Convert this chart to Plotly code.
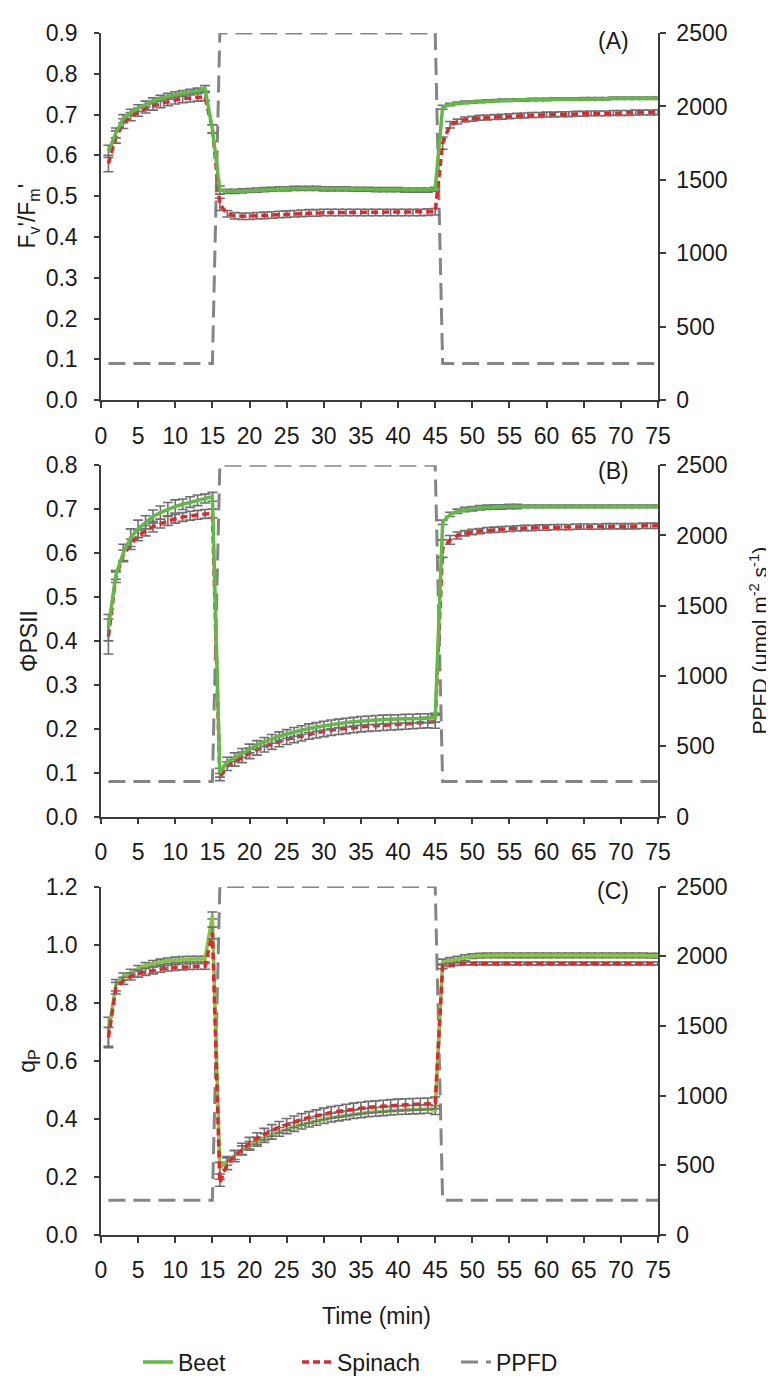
import plotly.graph_objects as go

# minutes after start of measurement
TIME = list(range(1, 76))

# light regime (umol m-2 s-1)
PPFD = [250] * 15 + [2500] * 30 + [250] * 30

# (A) Fv'/Fm'
beet_fvfm = [
    0.610, 0.655, 0.690, 0.705, 0.716, 0.726, 0.734, 0.740, 0.745, 0.749, 0.752, 0.755, 0.758, 0.764, 0.665,
    0.515, 0.512, 0.512, 0.513, 0.514, 0.515, 0.516, 0.517, 0.518, 0.518, 0.519, 0.519, 0.519, 0.519, 0.518,
    0.518, 0.518, 0.518, 0.517, 0.517, 0.517, 0.516, 0.516, 0.516, 0.516, 0.515, 0.515, 0.515, 0.515, 0.517,
    0.718, 0.725, 0.728, 0.730, 0.731, 0.732, 0.733, 0.734, 0.735, 0.735, 0.736, 0.736, 0.737, 0.737, 0.737,
    0.738, 0.738, 0.738, 0.738, 0.739, 0.739, 0.739, 0.739, 0.740, 0.740, 0.740, 0.740, 0.740, 0.740, 0.740,
]
beet_fvfm_err = [
    0.015, 0.012, 0.010, 0.008, 0.008, 0.007, 0.007, 0.007, 0.007, 0.007, 0.007, 0.007, 0.007, 0.007, 0.010,
    0.010, 0.005, 0.005, 0.005, 0.005, 0.005, 0.005, 0.005, 0.005, 0.005, 0.005, 0.005, 0.005, 0.005, 0.005,
    0.005, 0.005, 0.005, 0.005, 0.005, 0.005, 0.005, 0.005, 0.005, 0.005, 0.005, 0.005, 0.005, 0.005, 0.005,
    0.005, 0.003, 0.003, 0.003, 0.003, 0.003, 0.003, 0.003, 0.003, 0.003, 0.003, 0.003, 0.003, 0.003, 0.003,
    0.003, 0.003, 0.003, 0.003, 0.003, 0.003, 0.003, 0.003, 0.003, 0.003, 0.003, 0.003, 0.003, 0.003, 0.003,
]
spinach_fvfm = [
    0.580, 0.645, 0.678, 0.695, 0.706, 0.714, 0.721, 0.727, 0.732, 0.736, 0.739, 0.741, 0.743, 0.744, 0.665,
    0.480, 0.457, 0.452, 0.451, 0.451, 0.452, 0.453, 0.454, 0.455, 0.456, 0.457, 0.458, 0.459, 0.459, 0.460,
    0.460, 0.460, 0.460, 0.460, 0.460, 0.460, 0.460, 0.460, 0.460, 0.460, 0.460, 0.460, 0.460, 0.461, 0.462,
    0.630, 0.675, 0.683, 0.688, 0.690, 0.692, 0.693, 0.694, 0.695, 0.696, 0.697, 0.698, 0.699, 0.699, 0.700,
    0.700, 0.701, 0.701, 0.702, 0.702, 0.703, 0.703, 0.703, 0.704, 0.704, 0.704, 0.705, 0.705, 0.705, 0.706,
]
spinach_fvfm_err = [
    0.020, 0.015, 0.012, 0.010, 0.010, 0.010, 0.010, 0.010, 0.010, 0.010, 0.010, 0.010, 0.010, 0.010, 0.010,
    0.015, 0.008, 0.008, 0.008, 0.008, 0.008, 0.008, 0.008, 0.008, 0.008, 0.008, 0.008, 0.008, 0.008, 0.008,
    0.008, 0.008, 0.008, 0.008, 0.008, 0.008, 0.008, 0.008, 0.008, 0.008, 0.008, 0.008, 0.008, 0.008, 0.008,
    0.015, 0.008, 0.006, 0.006, 0.006, 0.006, 0.006, 0.006, 0.006, 0.006, 0.006, 0.006, 0.006, 0.006, 0.006,
    0.006, 0.006, 0.006, 0.006, 0.006, 0.006, 0.006, 0.006, 0.006, 0.006, 0.006, 0.006, 0.006, 0.006, 0.006,
]

# (B) PhiPSII
beet_phi = [
    0.430, 0.550, 0.600, 0.635, 0.655, 0.670, 0.683, 0.692, 0.700, 0.706, 0.711, 0.716, 0.720, 0.724, 0.728,
    0.100, 0.125, 0.135, 0.145, 0.155, 0.163, 0.170, 0.177, 0.183, 0.188, 0.193, 0.197, 0.201, 0.204, 0.207,
    0.210, 0.212, 0.214, 0.216, 0.218, 0.219, 0.220, 0.221, 0.222, 0.222, 0.223, 0.223, 0.224, 0.224, 0.225,
    0.670, 0.688, 0.695, 0.699, 0.701, 0.703, 0.704, 0.705, 0.705, 0.706, 0.706, 0.706, 0.706, 0.706, 0.706,
    0.706, 0.706, 0.706, 0.706, 0.706, 0.706, 0.706, 0.706, 0.706, 0.706, 0.706, 0.706, 0.706, 0.706, 0.706,
]
beet_phi_err = [
    0.030, 0.010, 0.020, 0.020, 0.020, 0.015, 0.015, 0.015, 0.015, 0.015, 0.012, 0.012, 0.012, 0.010, 0.010,
    0.010, 0.010, 0.010, 0.010, 0.010, 0.010, 0.010, 0.010, 0.010, 0.010, 0.010, 0.010, 0.010, 0.010, 0.010,
    0.010, 0.010, 0.010, 0.010, 0.010, 0.010, 0.010, 0.010, 0.010, 0.010, 0.010, 0.010, 0.010, 0.010, 0.010,
    0.005, 0.005, 0.005, 0.005, 0.005, 0.005, 0.005, 0.005, 0.005, 0.005, 0.005, 0.003, 0.003, 0.003, 0.003,
    0.003, 0.003, 0.003, 0.003, 0.003, 0.003, 0.003, 0.003, 0.003, 0.003, 0.003, 0.003, 0.003, 0.003, 0.003,
]
spinach_phi = [
    0.410, 0.545, 0.595, 0.620, 0.640, 0.651, 0.660, 0.667, 0.673, 0.678, 0.682, 0.685, 0.687, 0.689, 0.690,
    0.090, 0.115, 0.125, 0.135, 0.144, 0.152, 0.159, 0.165, 0.171, 0.176, 0.180, 0.184, 0.188, 0.191, 0.194,
    0.197, 0.199, 0.201, 0.203, 0.205, 0.206, 0.207, 0.208, 0.209, 0.210, 0.211, 0.212, 0.213, 0.214, 0.216,
    0.610, 0.630, 0.640, 0.645, 0.648, 0.650, 0.652, 0.653, 0.654, 0.655, 0.656, 0.657, 0.657, 0.658, 0.658,
    0.659, 0.659, 0.659, 0.660, 0.660, 0.660, 0.660, 0.661, 0.661, 0.661, 0.661, 0.661, 0.662, 0.662, 0.662,
]
spinach_phi_err = [
    0.040, 0.012, 0.012, 0.012, 0.012, 0.012, 0.012, 0.010, 0.010, 0.010, 0.010, 0.010, 0.010, 0.010, 0.010,
    0.008, 0.010, 0.010, 0.012, 0.012, 0.012, 0.012, 0.012, 0.012, 0.012, 0.012, 0.012, 0.012, 0.012, 0.012,
    0.012, 0.012, 0.012, 0.012, 0.012, 0.012, 0.012, 0.012, 0.012, 0.012, 0.012, 0.012, 0.012, 0.012, 0.015,
    0.020, 0.010, 0.008, 0.006, 0.006, 0.006, 0.006, 0.006, 0.006, 0.006, 0.006, 0.006, 0.006, 0.006, 0.006,
    0.006, 0.006, 0.006, 0.006, 0.006, 0.006, 0.006, 0.006, 0.006, 0.006, 0.006, 0.006, 0.006, 0.006, 0.006,
]

# (C) qP
beet_qp = [
    0.700, 0.860, 0.890, 0.905, 0.918, 0.928, 0.935, 0.940, 0.944, 0.947, 0.949, 0.950, 0.950, 0.950, 1.100,
    0.230, 0.255, 0.275, 0.292, 0.307, 0.321, 0.334, 0.345, 0.355, 0.364, 0.372, 0.380, 0.387, 0.393, 0.399,
    0.404, 0.408, 0.412, 0.416, 0.419, 0.422, 0.424, 0.426, 0.428, 0.430, 0.431, 0.432, 0.433, 0.434, 0.430,
    0.940, 0.945, 0.950, 0.955, 0.960, 0.962, 0.963, 0.963, 0.963, 0.963, 0.963, 0.963, 0.963, 0.963, 0.963,
    0.963, 0.963, 0.963, 0.963, 0.963, 0.963, 0.963, 0.963, 0.963, 0.963, 0.963, 0.963, 0.963, 0.962, 0.962,
]
beet_qp_err = [
    0.050, 0.020, 0.012, 0.010, 0.010, 0.010, 0.010, 0.010, 0.010, 0.010, 0.010, 0.010, 0.010, 0.010, 0.012,
    0.020, 0.015, 0.015, 0.015, 0.015, 0.015, 0.015, 0.015, 0.015, 0.015, 0.015, 0.015, 0.015, 0.015, 0.015,
    0.015, 0.015, 0.015, 0.015, 0.015, 0.015, 0.015, 0.015, 0.015, 0.015, 0.015, 0.015, 0.015, 0.015, 0.015,
    0.010, 0.010, 0.010, 0.010, 0.008, 0.008, 0.008, 0.008, 0.008, 0.008, 0.008, 0.008, 0.008, 0.008, 0.008,
    0.008, 0.008, 0.008, 0.008, 0.008, 0.008, 0.008, 0.008, 0.008, 0.008, 0.008, 0.008, 0.008, 0.008, 0.008,
]
spinach_qp = [
    0.680, 0.850, 0.875, 0.890, 0.900, 0.906, 0.911, 0.915, 0.919, 0.921, 0.923, 0.924, 0.925, 0.925, 1.040,
    0.180, 0.245, 0.272, 0.296, 0.316, 0.332, 0.347, 0.360, 0.371, 0.381, 0.390, 0.398, 0.405, 0.411, 0.417,
    0.422, 0.426, 0.430, 0.434, 0.437, 0.440, 0.442, 0.444, 0.446, 0.448, 0.449, 0.450, 0.451, 0.452, 0.455,
    0.925, 0.930, 0.933, 0.935, 0.935, 0.935, 0.935, 0.935, 0.935, 0.935, 0.935, 0.935, 0.935, 0.935, 0.935,
    0.935, 0.935, 0.935, 0.935, 0.935, 0.935, 0.935, 0.935, 0.935, 0.935, 0.935, 0.935, 0.935, 0.935, 0.935,
]
spinach_qp_err = [
    0.035, 0.020, 0.012, 0.012, 0.012, 0.012, 0.012, 0.010, 0.010, 0.010, 0.010, 0.010, 0.010, 0.010, 0.020,
    0.012, 0.020, 0.020, 0.020, 0.020, 0.020, 0.020, 0.020, 0.020, 0.020, 0.020, 0.020, 0.020, 0.020, 0.020,
    0.020, 0.020, 0.020, 0.020, 0.020, 0.020, 0.020, 0.020, 0.020, 0.020, 0.020, 0.020, 0.020, 0.020, 0.020,
    0.008, 0.006, 0.005, 0.005, 0.005, 0.005, 0.005, 0.005, 0.005, 0.005, 0.005, 0.005, 0.005, 0.005, 0.005,
    0.005, 0.005, 0.005, 0.005, 0.005, 0.005, 0.005, 0.005, 0.005, 0.005, 0.005, 0.005, 0.005, 0.005, 0.005,
]

PANEL_LABELS = ["(A)", "(B)", "(C)"]
Y_TITLES = ["F<sub>v</sub>'/F<sub>m</sub>'", "\u03a6PSII", "q<sub>P</sub>"]
Y_RANGES = [[0, 0.9], [0, 0.8], [0, 1.2]]
Y_DTICKS = [0.1, 0.1, 0.2]

GREEN = "#62b946"
GREEN_C = "#86c540"
RED = "#e0282c"
GREY = "#858585"
ERR_GREY = "#6f6f6f"
AXIS_COL = "#3c3c3c"
TEXT_COL = "#1a1a1a"
FONT = "Liberation Sans"
FS = 23

# pixel layout of the figure (774 x 1388)
W, H = 774, 1388
ML, MR, MT, MB = 93, 124, 15, 152
PW = W - ML - MR
PH = H - MT - MB
# panel top/bottom in pixel rows
PANEL_PX = [(15, 388), (454, 811), (882, 1236)]


def py(pix):
    # pixel row -> paper y
    return (H - MB - pix) / PH


def px(pix):
    return (pix - ML) / PW


fig = go.Figure()

panels = [
    (beet_fvfm, beet_fvfm_err, spinach_fvfm, spinach_fvfm_err),
    (beet_phi, beet_phi_err, spinach_phi, spinach_phi_err),
    (beet_qp, beet_qp_err, spinach_qp, spinach_qp_err),
]

for i, (b, b_err, s, s_err) in enumerate(panels):
    n = i + 1
    xa = "x" if n == 1 else f"x{n}"
    y_left = f"y{2 * n - 1}" if n > 1 else "y"
    y_right = f"y{2 * n}"
    first = i == 0

    # light level first so it sits under the fluorescence curves
    fig.add_trace(go.Scatter(
        x=TIME, y=PPFD, xaxis=xa, yaxis=y_right, mode="lines",
        name="PPFD", legendrank=3, showlegend=first,
        line=dict(color=GREY, width=3, dash="17px,8px"),
    ))

    beet = go.Scatter(
        x=TIME, y=b, xaxis=xa, yaxis=y_left, mode="lines",
        name="Beet", legendrank=1, showlegend=first,
        line=dict(color=GREEN_C if n == 3 else GREEN, width=3.5),
        error_y=dict(type="data", array=b_err, color=ERR_GREY, thickness=1.6, width=5),
    )
    spin = go.Scatter(
        x=TIME, y=s, xaxis=xa, yaxis=y_left, mode="lines",
        name="Spinach", legendrank=2, showlegend=first,
        line=dict(color=RED, width=3.5, dash="7px,4px"),
        error_y=dict(type="data", array=s_err, color=ERR_GREY, thickness=1.6, width=5),
    )
    # in (C) the red dashes sit over the green line
    if n == 3:
        fig.add_trace(beet)
        fig.add_trace(spin)
    else:
        fig.add_trace(spin)
        fig.add_trace(beet)

tick_font = dict(family=FONT, size=FS, color=TEXT_COL)
layout = dict(
    width=W, height=H,
    margin=dict(l=ML, r=MR, t=MT, b=MB),
    paper_bgcolor="white", plot_bgcolor="white",
    font=dict(family=FONT, size=FS, color=TEXT_COL),
    legend=dict(
        orientation="h", x=px(130), xanchor="left", y=py(1365), yanchor="middle",
        font=dict(family=FONT, size=FS, color=TEXT_COL),
        entrywidth=114, entrywidthmode="pixels", traceorder="normal",
    ),
)

annotations = []
for i in range(3):
    n = i + 1
    top, bot = PANEL_PX[i]
    dom = [py(bot), py(top)]
    xkey = "xaxis" if n == 1 else f"xaxis{n}"
    lkey = "yaxis" if n == 1 else f"yaxis{2 * n - 1}"
    rkey = f"yaxis{2 * n}"
    r_id = f"y{2 * n}"
    x_id = "x" if n == 1 else f"x{n}"

    layout[xkey] = dict(
        domain=[0, 1], anchor=r_id, range=[0, 75], dtick=5, tick0=0,
        showline=True, linecolor=AXIS_COL, linewidth=1.5,
        ticks="outside", ticklen=6, tickwidth=1.5, tickcolor=AXIS_COL,
        ticklabelstandoff=8,
        showgrid=False, zeroline=False, tickfont=tick_font,
    )
    layout[rkey] = dict(
        domain=dom, anchor=x_id, side="right",
        range=[0, 2500], dtick=500, tick0=0,
        showline=True, linecolor=AXIS_COL, linewidth=1.5,
        ticks="outside", ticklen=6, tickwidth=1.5, tickcolor=AXIS_COL,
        ticklabelstandoff=6,
        showgrid=False, zeroline=False, tickfont=tick_font,
    )
    layout[lkey] = dict(
        domain=dom, anchor=x_id, overlaying=r_id, side="left",
        range=Y_RANGES[i], dtick=Y_DTICKS[i], tick0=0, tickformat=".1f",
        showline=True, linecolor=AXIS_COL, linewidth=1.5,
        ticks="outside", ticklen=5, tickwidth=1.5, tickcolor=AXIS_COL,
        ticklabelstandoff=12,
        showgrid=False, zeroline=False, tickfont=tick_font,
    )

    label_y = [23, 460, 887][i]
    annotations.append(dict(
        text=PANEL_LABELS[i], xref="paper", yref="paper", x=px(605), y=py(label_y),
        xanchor="center", yanchor="middle", showarrow=False,
        font=dict(family=FONT, size=FS, color=TEXT_COL),
    ))
    annotations.append(dict(
        text=Y_TITLES[i], xref="paper", yref="paper", x=px(21), y=py((top + bot) / 2),
        xanchor="center", yanchor="middle", textangle=-90, showarrow=False,
        font=dict(family=FONT, size=FS, color=TEXT_COL),
    ))

annotations.append(dict(
    text="PPFD (\u03bcmol m<sup>-2</sup> s<sup>-1</sup>)", xref="paper", yref="paper",
    x=px(751), y=py(632), xanchor="center", yanchor="middle", textangle=-90,
    showarrow=False, font=dict(family=FONT, size=21, color=TEXT_COL),
))
annotations.append(dict(
    text="Time (min)", xref="paper", yref="paper", x=px(368), y=py(1318),
    xanchor="center", yanchor="middle", showarrow=False,
    font=dict(family=FONT, size=FS, color=TEXT_COL),
))
layout["annotations"] = annotations

fig.update_layout(**layout)
fig.write_html("out.html")
